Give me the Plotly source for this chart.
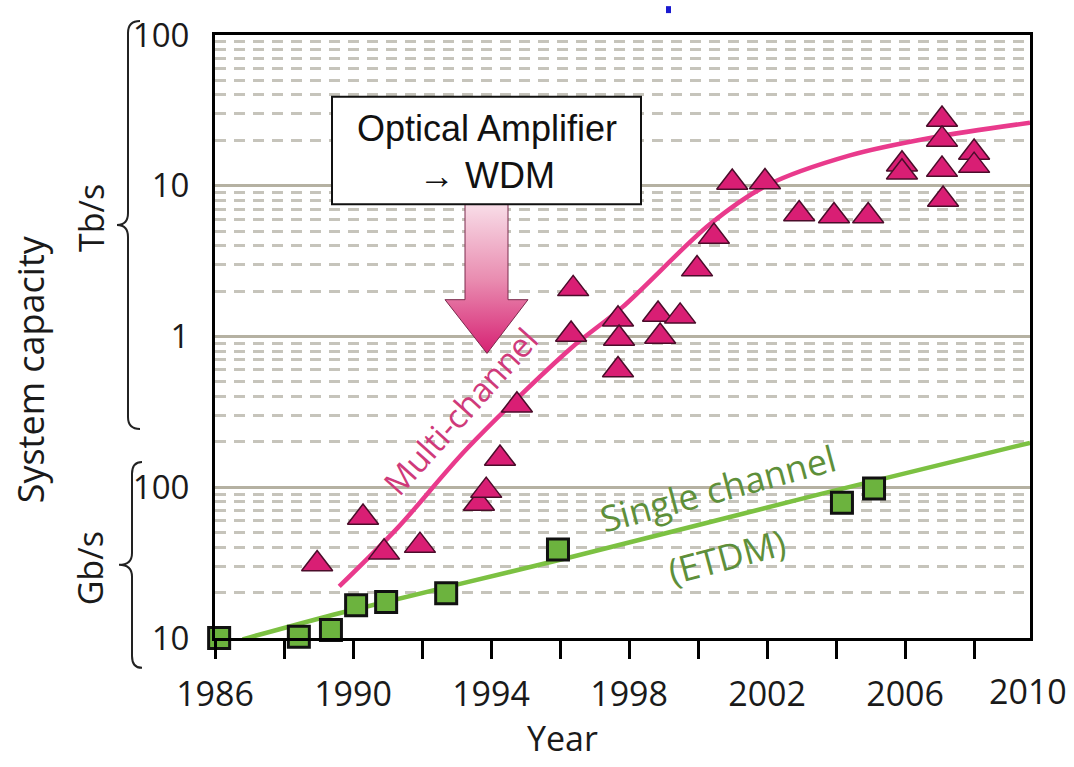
import plotly.graph_objects as go

# ---------------- data (year, Gb/s) ----------------
wdm_years = [1988.96, 1990.29, 1990.90, 1991.94, 1993.65, 1993.86, 1994.26, 1994.75,
             1996.38, 1996.32, 1997.68, 1997.71, 1997.68, 1998.84, 1998.90, 1999.48,
             1999.97, 2000.46, 2000.99, 2001.94, 2002.93, 2003.94, 2004.93, 2005.91,
             2005.91, 2007.07, 2007.07, 2007.07, 2007.10, 2008.00, 2008.00]
wdm_capacity = [31, 63, 37, 41, 78, 95, 155, 350,
                2070, 1030, 1300, 970, 600, 1400, 1000, 1360,
                2800, 4600, 10500, 10600, 6500, 6300, 6300, 13900,
                12300, 27500, 20300, 12800, 8100, 16600, 13600]

etdm_years = [1986.12, 1988.43, 1989.36, 1990.09, 1990.96, 1992.70, 1995.94, 2004.17, 2005.10]
etdm_capacity = [10.0, 10.2, 11.3, 16.5, 17.3, 19.8, 38.6, 79, 98]

multi_trend_years = [1989.6, 1991.3, 1993.3, 1996.3, 1997.8, 2000.35, 2002.0, 2004.4, 2006.8, 2009.62]
multi_trend_cap = [22, 54, 180, 830, 1560, 5570, 10070, 15900, 20900, 26200]

single_trend_years = [1986.8, 1989.6, 1996.3, 2003.45, 2009.62]
single_trend_cap = [9.8, 14.6, 34.3, 89, 197]

x_major_ticks = [1986, 1990, 1994, 1998, 2002, 2006]
x_minor_ticks = [1988, 1992, 1996, 2000, 2004, 2008]
y_tick_vals = [10, 100, 1000, 10000, 100000]
y_tick_text = ["10", "100", "1", "10", "100"]

# ---------------- layout geometry ----------------
W, H = 1074, 767
PL, PR, PT, PB = 215, 1030, 32, 638  # plot area in pixels


def px_x(px):
    return (px - PL) / (PR - PL)


def px_y(py):
    return (PB - py) / (PB - PT)


FONT = "Open Sans, Noto Sans, DejaVu Sans, sans-serif"
TXT = "#1a1a1a"

fig = go.Figure()

# gradient arrow (decoration) on a hidden pixel-space overlay axis
arrow_x = [465, 508, 508, 528, 487, 445, 465, 465]
arrow_y = [202, 202, 298, 298, 352, 298, 298, 202]
fig.add_trace(go.Scatter(
    x=arrow_x, y=arrow_y, xaxis="x2", yaxis="y2", mode="lines",
    fill="toself", line=dict(color="#7a2a4c", width=1),
    fillgradient=dict(type="vertical", start=202, stop=352,
                      colorscale=[[0, "#f8dce7"], [0.5, "#e98cb0"], [1, "#d61f72"]]),
    hoverinfo="skip", showlegend=False))

# trend lines
fig.add_trace(go.Scatter(x=single_trend_years, y=single_trend_cap, mode="lines",
                         line=dict(color="#7cc142", width=4.5, shape="spline", smoothing=0.6),
                         showlegend=False, hoverinfo="skip"))
fig.add_trace(go.Scatter(x=multi_trend_years, y=multi_trend_cap, mode="lines",
                         line=dict(color="#e93a8c", width=4.5, shape="spline", smoothing=0.9),
                         showlegend=False, hoverinfo="skip"))

# markers
fig.add_trace(go.Scatter(x=wdm_years, y=wdm_capacity, mode="markers", cliponaxis=False,
                         marker=dict(symbol="triangle-up", size=27, color="#d91e74",
                                     line=dict(color="#4a0d2a", width=1.5)),
                         showlegend=False, name="Multi-channel"))
fig.add_trace(go.Scatter(x=etdm_years, y=etdm_capacity, mode="markers", cliponaxis=False,
                         marker=dict(symbol="square", size=21, color="#6cb33e",
                                     line=dict(color="#111111", width=3)),
                         showlegend=False, name="Single channel"))

minor_y = [m * 10 ** d for d in range(1, 5) for m in range(2, 10)]


def brace(xv, xtip, xpt, y0, y1, r=12):
    ym = (y0 + y1) / 2
    pts = [("M", [(xtip, y0)]),
           ("Q", [(xv, y0), (xv, y0 + r)]),
           ("L", [(xv, ym - r)]),
           ("Q", [(xv, ym), (xpt, ym)]),
           ("Q", [(xv, ym), (xv, ym + r)]),
           ("L", [(xv, y1 - r)]),
           ("Q", [(xv, y1), (xtip, y1)])]
    s = ""
    for cmd, ps in pts:
        s += cmd + " " + " ".join(f"{px_x(a):.5f},{px_y(b):.5f}" for a, b in ps) + " "
    return s.strip()


shapes = [
    dict(type="path", xref="paper", yref="paper", path=brace(128, 140, 117, 18, 428),
         line=dict(color="#222222", width=2)),
    dict(type="path", xref="paper", yref="paper", path=brace(132, 142, 119, 461, 668),
         line=dict(color="#222222", width=2)),
    # text box
    dict(type="rect", xref="paper", yref="paper", layer="above",
         x0=px_x(332), x1=px_x(641), y0=px_y(202), y1=px_y(94),
         fillcolor="white", line=dict(color="#111111", width=2)),
    # small blue mark at top
    dict(type="rect", xref="paper", yref="paper",
         x0=px_x(666), x1=px_x(671), y0=px_y(10), y1=px_y(3),
         fillcolor="#1a1ad0", line=dict(width=0)),
]


def label(text, px, py, size, color=TXT, angle=0, family=FONT):
    return dict(text=text, x=px_x(px), y=px_y(py), xref="paper", yref="paper",
                showarrow=False, textangle=angle, xanchor="center", yanchor="middle",
                font=dict(family=family, size=size, color=color))


annotations = [
    label("Optical Amplifier<br>→ WDM", 487, 150, 36, "#111111",
          family="Liberation Sans, Arial, sans-serif"),
    label("Multi-channel", 460, 410, 33, "#cf3a7a", angle=-48),
    label("Single channel", 718, 488, 36, "#5e8f3a", angle=-15),
    label("(ETDM)", 727, 556, 36, "#5e8f3a", angle=-15),
    label("System capacity", 30, 368, 36, angle=-90),
    label("Tb/s", 91, 216, 34, angle=-90),
    label("Gb/s", 90, 568, 34, angle=-90),
    label("Year", 562, 738, 34),
    label("2010", 1028, 691, 34),
]

fig.update_layout(
    width=W, height=H,
    margin=dict(l=PL, r=W - PR, t=PT, b=H - PB, pad=0),
    paper_bgcolor="white", plot_bgcolor="white",
    showlegend=False,
    font=dict(family=FONT, color=TXT),
    shapes=shapes, annotations=annotations,
    xaxis=dict(range=[1986, 2009.62], showgrid=False, zeroline=False,
               showline=True, linecolor="#000000", linewidth=3, mirror=True,
               tickmode="array", tickvals=x_major_ticks,
               ticks="outside", ticklen=18, tickwidth=3, tickcolor="#000000",
               ticklabelstandoff=6,
               tickfont=dict(family=FONT, size=34, color=TXT),
               minor=dict(tickmode="array", tickvals=x_minor_ticks, ticks="outside",
                          ticklen=18, tickwidth=3, tickcolor="#000000", showgrid=False)),
    yaxis=dict(type="log", range=[1, 5], zeroline=False,
               showline=True, linecolor="#000000", linewidth=3, mirror=True,
               tickmode="array", tickvals=y_tick_vals, ticktext=y_tick_text,
               ticks="outside", ticklen=16, tickcolor="rgba(0,0,0,0)",
               tickfont=dict(family=FONT, size=33, color=TXT),
               showgrid=True, gridcolor="#b5b1a2", gridwidth=3,
               minor=dict(tickmode="array", tickvals=minor_y, ticks="",
                          showgrid=True, gridcolor="#c6c4bb", gridwidth=2.5,
                          griddash="11px,8px")),
    xaxis2=dict(range=[PL, PR], overlaying="x", visible=False, fixedrange=True),
    yaxis2=dict(range=[PB, PT], overlaying="y", visible=False, fixedrange=True),
)

fig.write_html("out.html", config={"displayModeBar": False},
               post_script="document.body.style.margin='0px';")
